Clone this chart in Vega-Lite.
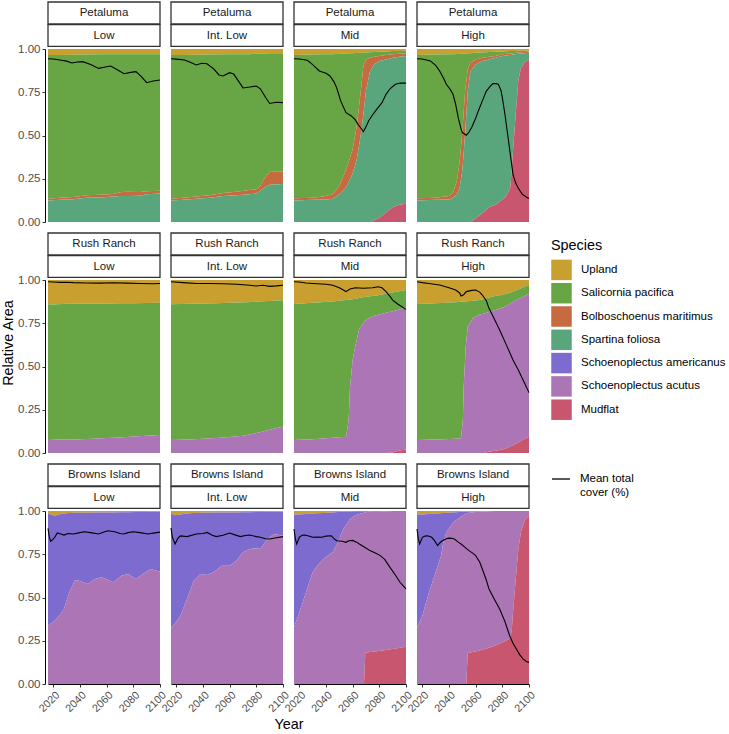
{
"$schema": "https://vega.github.io/schema/vega-lite/v6.json",
"padding": {"left": 0, "top": 1, "right": 0, "bottom": 0},
"background": "white",
"datasets": {
"sp": [
{"k":"Mu","Species":"Mudflat","rank":0},
{"k":"Ac","Species":"Schoenoplectus acutus","rank":1},
{"k":"Am","Species":"Schoenoplectus americanus","rank":2},
{"k":"Sp","Species":"Spartina foliosa","rank":3},
{"k":"Bo","Species":"Bolboschoenus maritimus","rank":4},
{"k":"Sa","Species":"Salicornia pacifica","rank":5},
{"k":"U","Species":"Upland","rank":6}
]
},
"data": {"values": [
{"s":"Petaluma","c":"Low","y":2016,"U":0.035,"Sa":0.83,"Bo":0.01,"Sp":0.125,"Am":0,"Ac":0,"Mu":0},
{"s":"Petaluma","c":"Low","y":2025,"U":0.034,"Sa":0.826,"Bo":0.012,"Sp":0.128,"Am":0,"Ac":0,"Mu":0},
{"s":"Petaluma","c":"Low","y":2035,"U":0.033,"Sa":0.822,"Bo":0.013,"Sp":0.132,"Am":0,"Ac":0,"Mu":0},
{"s":"Petaluma","c":"Low","y":2045,"U":0.032,"Sa":0.814,"Bo":0.014,"Sp":0.14,"Am":0,"Ac":0,"Mu":0},
{"s":"Petaluma","c":"Low","y":2055,"U":0.031,"Sa":0.812,"Bo":0.015,"Sp":0.142,"Am":0,"Ac":0,"Mu":0},
{"s":"Petaluma","c":"Low","y":2065,"U":0.03,"Sa":0.808,"Bo":0.015,"Sp":0.147,"Am":0,"Ac":0,"Mu":0},
{"s":"Petaluma","c":"Low","y":2070,"U":0.03,"Sa":0.798,"Bo":0.022,"Sp":0.15,"Am":0,"Ac":0,"Mu":0},
{"s":"Petaluma","c":"Low","y":2075,"U":0.03,"Sa":0.795,"Bo":0.025,"Sp":0.15,"Am":0,"Ac":0,"Mu":0},
{"s":"Petaluma","c":"Low","y":2085,"U":0.03,"Sa":0.796,"Bo":0.022,"Sp":0.152,"Am":0,"Ac":0,"Mu":0},
{"s":"Petaluma","c":"Low","y":2090,"U":0.03,"Sa":0.792,"Bo":0.018,"Sp":0.16,"Am":0,"Ac":0,"Mu":0},
{"s":"Petaluma","c":"Low","y":2100,"U":0.03,"Sa":0.79,"Bo":0.015,"Sp":0.165,"Am":0,"Ac":0,"Mu":0},

{"s":"Petaluma","c":"Int. Low","y":2016,"U":0.035,"Sa":0.83,"Bo":0.01,"Sp":0.125,"Am":0,"Ac":0,"Mu":0},
{"s":"Petaluma","c":"Int. Low","y":2025,"U":0.034,"Sa":0.826,"Bo":0.012,"Sp":0.128,"Am":0,"Ac":0,"Mu":0},
{"s":"Petaluma","c":"Int. Low","y":2035,"U":0.033,"Sa":0.819,"Bo":0.013,"Sp":0.135,"Am":0,"Ac":0,"Mu":0},
{"s":"Petaluma","c":"Int. Low","y":2045,"U":0.032,"Sa":0.813,"Bo":0.015,"Sp":0.14,"Am":0,"Ac":0,"Mu":0},
{"s":"Petaluma","c":"Int. Low","y":2055,"U":0.031,"Sa":0.801,"Bo":0.018,"Sp":0.15,"Am":0,"Ac":0,"Mu":0},
{"s":"Petaluma","c":"Int. Low","y":2065,"U":0.03,"Sa":0.795,"Bo":0.02,"Sp":0.155,"Am":0,"Ac":0,"Mu":0},
{"s":"Petaluma","c":"Int. Low","y":2075,"U":0.03,"Sa":0.785,"Bo":0.025,"Sp":0.16,"Am":0,"Ac":0,"Mu":0},
{"s":"Petaluma","c":"Int. Low","y":2080,"U":0.028,"Sa":0.782,"Bo":0.025,"Sp":0.165,"Am":0,"Ac":0,"Mu":0},
{"s":"Petaluma","c":"Int. Low","y":2083,"U":0.027,"Sa":0.763,"Bo":0.03,"Sp":0.18,"Am":0,"Ac":0,"Mu":0},
{"s":"Petaluma","c":"Int. Low","y":2086,"U":0.026,"Sa":0.724,"Bo":0.05,"Sp":0.2,"Am":0,"Ac":0,"Mu":0},
{"s":"Petaluma","c":"Int. Low","y":2090,"U":0.025,"Sa":0.685,"Bo":0.075,"Sp":0.215,"Am":0,"Ac":0,"Mu":0},
{"s":"Petaluma","c":"Int. Low","y":2100,"U":0.025,"Sa":0.685,"Bo":0.07,"Sp":0.22,"Am":0,"Ac":0,"Mu":0},

{"s":"Petaluma","c":"Mid","y":2016,"U":0.035,"Sa":0.828,"Bo":0.012,"Sp":0.125,"Am":0,"Ac":0,"Mu":0},
{"s":"Petaluma","c":"Mid","y":2030,"U":0.032,"Sa":0.828,"Bo":0.012,"Sp":0.128,"Am":0,"Ac":0,"Mu":0},
{"s":"Petaluma","c":"Mid","y":2040,"U":0.03,"Sa":0.82,"Bo":0.02,"Sp":0.13,"Am":0,"Ac":0,"Mu":0},
{"s":"Petaluma","c":"Mid","y":2045,"U":0.03,"Sa":0.81,"Bo":0.025,"Sp":0.135,"Am":0,"Ac":0,"Mu":0},
{"s":"Petaluma","c":"Mid","y":2050,"U":0.028,"Sa":0.762,"Bo":0.05,"Sp":0.16,"Am":0,"Ac":0,"Mu":0},
{"s":"Petaluma","c":"Mid","y":2055,"U":0.026,"Sa":0.674,"Bo":0.1,"Sp":0.2,"Am":0,"Ac":0,"Mu":0},
{"s":"Petaluma","c":"Mid","y":2060,"U":0.024,"Sa":0.556,"Bo":0.14,"Sp":0.28,"Am":0,"Ac":0,"Mu":0},
{"s":"Petaluma","c":"Mid","y":2063,"U":0.023,"Sa":0.427,"Bo":0.19,"Sp":0.36,"Am":0,"Ac":0,"Mu":0},
{"s":"Petaluma","c":"Mid","y":2066,"U":0.022,"Sa":0.228,"Bo":0.25,"Sp":0.5,"Am":0,"Ac":0,"Mu":0},
{"s":"Petaluma","c":"Mid","y":2068,"U":0.021,"Sa":0.079,"Bo":0.28,"Sp":0.62,"Am":0,"Ac":0,"Mu":0},
{"s":"Petaluma","c":"Mid","y":2070,"U":0.02,"Sa":0.04,"Bo":0.18,"Sp":0.76,"Am":0,"Ac":0,"Mu":0},
{"s":"Petaluma","c":"Mid","y":2073,"U":0.019,"Sa":0.031,"Bo":0.08,"Sp":0.87,"Am":0,"Ac":0,"Mu":0},
{"s":"Petaluma","c":"Mid","y":2076,"U":0.018,"Sa":0.027,"Bo":0.045,"Sp":0.9,"Am":0,"Ac":0,"Mu":0.01},
{"s":"Petaluma","c":"Mid","y":2080,"U":0.016,"Sa":0.024,"Bo":0.03,"Sp":0.905,"Am":0,"Ac":0,"Mu":0.025},
{"s":"Petaluma","c":"Mid","y":2085,"U":0.014,"Sa":0.021,"Bo":0.025,"Sp":0.885,"Am":0,"Ac":0,"Mu":0.055},
{"s":"Petaluma","c":"Mid","y":2090,"U":0.012,"Sa":0.018,"Bo":0.02,"Sp":0.865,"Am":0,"Ac":0,"Mu":0.085},
{"s":"Petaluma","c":"Mid","y":2095,"U":0.011,"Sa":0.017,"Bo":0.017,"Sp":0.855,"Am":0,"Ac":0,"Mu":0.1},
{"s":"Petaluma","c":"Mid","y":2100,"U":0.01,"Sa":0.015,"Bo":0.015,"Sp":0.855,"Am":0,"Ac":0,"Mu":0.105},

{"s":"Petaluma","c":"High","y":2016,"U":0.035,"Sa":0.828,"Bo":0.012,"Sp":0.125,"Am":0,"Ac":0,"Mu":0},
{"s":"Petaluma","c":"High","y":2030,"U":0.032,"Sa":0.828,"Bo":0.012,"Sp":0.128,"Am":0,"Ac":0,"Mu":0},
{"s":"Petaluma","c":"High","y":2040,"U":0.03,"Sa":0.82,"Bo":0.02,"Sp":0.13,"Am":0,"Ac":0,"Mu":0},
{"s":"Petaluma","c":"High","y":2043,"U":0.03,"Sa":0.8,"Bo":0.03,"Sp":0.14,"Am":0,"Ac":0,"Mu":0},
{"s":"Petaluma","c":"High","y":2046,"U":0.029,"Sa":0.731,"Bo":0.08,"Sp":0.16,"Am":0,"Ac":0,"Mu":0},
{"s":"Petaluma","c":"High","y":2048,"U":0.028,"Sa":0.622,"Bo":0.15,"Sp":0.2,"Am":0,"Ac":0,"Mu":0},
{"s":"Petaluma","c":"High","y":2050,"U":0.027,"Sa":0.453,"Bo":0.22,"Sp":0.3,"Am":0,"Ac":0,"Mu":0},
{"s":"Petaluma","c":"High","y":2052,"U":0.026,"Sa":0.224,"Bo":0.25,"Sp":0.5,"Am":0,"Ac":0,"Mu":0},
{"s":"Petaluma","c":"High","y":2054,"U":0.025,"Sa":0.095,"Bo":0.13,"Sp":0.75,"Am":0,"Ac":0,"Mu":0},
{"s":"Petaluma","c":"High","y":2056,"U":0.024,"Sa":0.056,"Bo":0.05,"Sp":0.87,"Am":0,"Ac":0,"Mu":0},
{"s":"Petaluma","c":"High","y":2060,"U":0.022,"Sa":0.038,"Bo":0.03,"Sp":0.89,"Am":0,"Ac":0,"Mu":0.02},
{"s":"Petaluma","c":"High","y":2065,"U":0.02,"Sa":0.03,"Bo":0.02,"Sp":0.88,"Am":0,"Ac":0,"Mu":0.05},
{"s":"Petaluma","c":"High","y":2068,"U":0.019,"Sa":0.029,"Bo":0.017,"Sp":0.865,"Am":0,"Ac":0,"Mu":0.07},
{"s":"Petaluma","c":"High","y":2070,"U":0.018,"Sa":0.027,"Bo":0.015,"Sp":0.855,"Am":0,"Ac":0,"Mu":0.085},
{"s":"Petaluma","c":"High","y":2075,"U":0.016,"Sa":0.024,"Bo":0.01,"Sp":0.85,"Am":0,"Ac":0,"Mu":0.1},
{"s":"Petaluma","c":"High","y":2080,"U":0.014,"Sa":0.016,"Bo":0.01,"Sp":0.83,"Am":0,"Ac":0,"Mu":0.13},
{"s":"Petaluma","c":"High","y":2083,"U":0.013,"Sa":0.015,"Bo":0.01,"Sp":0.812,"Am":0,"Ac":0,"Mu":0.15},
{"s":"Petaluma","c":"High","y":2086,"U":0.012,"Sa":0.014,"Bo":0.009,"Sp":0.765,"Am":0,"Ac":0,"Mu":0.2},
{"s":"Petaluma","c":"High","y":2088,"U":0.011,"Sa":0.013,"Bo":0.008,"Sp":0.558,"Am":0,"Ac":0,"Mu":0.41},
{"s":"Petaluma","c":"High","y":2090,"U":0.011,"Sa":0.011,"Bo":0.008,"Sp":0.35,"Am":0,"Ac":0,"Mu":0.62},
{"s":"Petaluma","c":"High","y":2092,"U":0.01,"Sa":0.01,"Bo":0.008,"Sp":0.152,"Am":0,"Ac":0,"Mu":0.82},
{"s":"Petaluma","c":"High","y":2094,"U":0.01,"Sa":0.009,"Bo":0.007,"Sp":0.084,"Am":0,"Ac":0,"Mu":0.89},
{"s":"Petaluma","c":"High","y":2097,"U":0.01,"Sa":0.007,"Bo":0.007,"Sp":0.051,"Am":0,"Ac":0,"Mu":0.925},
{"s":"Petaluma","c":"High","y":2100,"U":0.01,"Sa":0.005,"Bo":0.007,"Sp":0.038,"Am":0,"Ac":0,"Mu":0.94},

{"s":"Rush Ranch","c":"Low","y":2016,"U":0.14,"Sa":0.785,"Bo":0,"Sp":0,"Am":0,"Ac":0.075,"Mu":0},
{"s":"Rush Ranch","c":"Low","y":2020,"U":0.142,"Sa":0.782,"Bo":0,"Sp":0,"Am":0,"Ac":0.076,"Mu":0},
{"s":"Rush Ranch","c":"Low","y":2030,"U":0.138,"Sa":0.784,"Bo":0,"Sp":0,"Am":0,"Ac":0.078,"Mu":0},
{"s":"Rush Ranch","c":"Low","y":2040,"U":0.138,"Sa":0.782,"Bo":0,"Sp":0,"Am":0,"Ac":0.08,"Mu":0},
{"s":"Rush Ranch","c":"Low","y":2050,"U":0.136,"Sa":0.781,"Bo":0,"Sp":0,"Am":0,"Ac":0.083,"Mu":0},
{"s":"Rush Ranch","c":"Low","y":2060,"U":0.136,"Sa":0.778,"Bo":0,"Sp":0,"Am":0,"Ac":0.086,"Mu":0},
{"s":"Rush Ranch","c":"Low","y":2070,"U":0.135,"Sa":0.775,"Bo":0,"Sp":0,"Am":0,"Ac":0.09,"Mu":0},
{"s":"Rush Ranch","c":"Low","y":2080,"U":0.134,"Sa":0.771,"Bo":0,"Sp":0,"Am":0,"Ac":0.095,"Mu":0},
{"s":"Rush Ranch","c":"Low","y":2090,"U":0.133,"Sa":0.767,"Bo":0,"Sp":0,"Am":0,"Ac":0.1,"Mu":0},
{"s":"Rush Ranch","c":"Low","y":2100,"U":0.132,"Sa":0.764,"Bo":0,"Sp":0,"Am":0,"Ac":0.104,"Mu":0},

{"s":"Rush Ranch","c":"Int. Low","y":2016,"U":0.14,"Sa":0.785,"Bo":0,"Sp":0,"Am":0,"Ac":0.075,"Mu":0},
{"s":"Rush Ranch","c":"Int. Low","y":2030,"U":0.138,"Sa":0.784,"Bo":0,"Sp":0,"Am":0,"Ac":0.078,"Mu":0},
{"s":"Rush Ranch","c":"Int. Low","y":2040,"U":0.136,"Sa":0.782,"Bo":0,"Sp":0,"Am":0,"Ac":0.082,"Mu":0},
{"s":"Rush Ranch","c":"Int. Low","y":2050,"U":0.134,"Sa":0.779,"Bo":0,"Sp":0,"Am":0,"Ac":0.087,"Mu":0},
{"s":"Rush Ranch","c":"Int. Low","y":2060,"U":0.132,"Sa":0.775,"Bo":0,"Sp":0,"Am":0,"Ac":0.093,"Mu":0},
{"s":"Rush Ranch","c":"Int. Low","y":2070,"U":0.13,"Sa":0.77,"Bo":0,"Sp":0,"Am":0,"Ac":0.1,"Mu":0},
{"s":"Rush Ranch","c":"Int. Low","y":2080,"U":0.126,"Sa":0.759,"Bo":0,"Sp":0,"Am":0,"Ac":0.115,"Mu":0},
{"s":"Rush Ranch","c":"Int. Low","y":2085,"U":0.123,"Sa":0.752,"Bo":0,"Sp":0,"Am":0,"Ac":0.125,"Mu":0},
{"s":"Rush Ranch","c":"Int. Low","y":2090,"U":0.121,"Sa":0.744,"Bo":0,"Sp":0,"Am":0,"Ac":0.135,"Mu":0},
{"s":"Rush Ranch","c":"Int. Low","y":2095,"U":0.119,"Sa":0.736,"Bo":0,"Sp":0,"Am":0,"Ac":0.145,"Mu":0},
{"s":"Rush Ranch","c":"Int. Low","y":2100,"U":0.117,"Sa":0.731,"Bo":0,"Sp":0,"Am":0,"Ac":0.152,"Mu":0},

{"s":"Rush Ranch","c":"Mid","y":2016,"U":0.139,"Sa":0.786,"Bo":0,"Sp":0,"Am":0,"Ac":0.075,"Mu":0},
{"s":"Rush Ranch","c":"Mid","y":2030,"U":0.132,"Sa":0.788,"Bo":0,"Sp":0,"Am":0,"Ac":0.08,"Mu":0},
{"s":"Rush Ranch","c":"Mid","y":2045,"U":0.124,"Sa":0.788,"Bo":0,"Sp":0,"Am":0,"Ac":0.088,"Mu":0},
{"s":"Rush Ranch","c":"Mid","y":2055,"U":0.116,"Sa":0.79,"Bo":0,"Sp":0,"Am":0,"Ac":0.094,"Mu":0},
{"s":"Rush Ranch","c":"Mid","y":2057,"U":0.114,"Sa":0.696,"Bo":0,"Sp":0,"Am":0,"Ac":0.19,"Mu":0},
{"s":"Rush Ranch","c":"Mid","y":2058,"U":0.113,"Sa":0.507,"Bo":0,"Sp":0,"Am":0,"Ac":0.38,"Mu":0},
{"s":"Rush Ranch","c":"Mid","y":2060,"U":0.111,"Sa":0.349,"Bo":0,"Sp":0,"Am":0,"Ac":0.54,"Mu":0},
{"s":"Rush Ranch","c":"Mid","y":2062,"U":0.108,"Sa":0.272,"Bo":0,"Sp":0,"Am":0,"Ac":0.62,"Mu":0},
{"s":"Rush Ranch","c":"Mid","y":2065,"U":0.104,"Sa":0.176,"Bo":0,"Sp":0,"Am":0,"Ac":0.72,"Mu":0},
{"s":"Rush Ranch","c":"Mid","y":2070,"U":0.097,"Sa":0.133,"Bo":0,"Sp":0,"Am":0,"Ac":0.77,"Mu":0},
{"s":"Rush Ranch","c":"Mid","y":2075,"U":0.092,"Sa":0.118,"Bo":0,"Sp":0,"Am":0,"Ac":0.79,"Mu":0},
{"s":"Rush Ranch","c":"Mid","y":2080,"U":0.087,"Sa":0.113,"Bo":0,"Sp":0,"Am":0,"Ac":0.8,"Mu":0},
{"s":"Rush Ranch","c":"Mid","y":2085,"U":0.08,"Sa":0.11,"Bo":0,"Sp":0,"Am":0,"Ac":0.81,"Mu":0},
{"s":"Rush Ranch","c":"Mid","y":2090,"U":0.072,"Sa":0.108,"Bo":0,"Sp":0,"Am":0,"Ac":0.815,"Mu":0.005},
{"s":"Rush Ranch","c":"Mid","y":2095,"U":0.065,"Sa":0.105,"Bo":0,"Sp":0,"Am":0,"Ac":0.815,"Mu":0.015},
{"s":"Rush Ranch","c":"Mid","y":2100,"U":0.058,"Sa":0.1,"Bo":0,"Sp":0,"Am":0,"Ac":0.822,"Mu":0.02},

{"s":"Rush Ranch","c":"High","y":2016,"U":0.139,"Sa":0.786,"Bo":0,"Sp":0,"Am":0,"Ac":0.075,"Mu":0},
{"s":"Rush Ranch","c":"High","y":2030,"U":0.134,"Sa":0.788,"Bo":0,"Sp":0,"Am":0,"Ac":0.078,"Mu":0},
{"s":"Rush Ranch","c":"High","y":2045,"U":0.128,"Sa":0.79,"Bo":0,"Sp":0,"Am":0,"Ac":0.082,"Mu":0},
{"s":"Rush Ranch","c":"High","y":2049,"U":0.126,"Sa":0.789,"Bo":0,"Sp":0,"Am":0,"Ac":0.085,"Mu":0},
{"s":"Rush Ranch","c":"High","y":2050.4,"U":0.125,"Sa":0.685,"Bo":0,"Sp":0,"Am":0,"Ac":0.19,"Mu":0},
{"s":"Rush Ranch","c":"High","y":2051,"U":0.125,"Sa":0.495,"Bo":0,"Sp":0,"Am":0,"Ac":0.38,"Mu":0},
{"s":"Rush Ranch","c":"High","y":2052.5,"U":0.124,"Sa":0.266,"Bo":0,"Sp":0,"Am":0,"Ac":0.61,"Mu":0},
{"s":"Rush Ranch","c":"High","y":2054,"U":0.123,"Sa":0.147,"Bo":0,"Sp":0,"Am":0,"Ac":0.73,"Mu":0},
{"s":"Rush Ranch","c":"High","y":2058,"U":0.12,"Sa":0.1,"Bo":0,"Sp":0,"Am":0,"Ac":0.78,"Mu":0},
{"s":"Rush Ranch","c":"High","y":2063,"U":0.115,"Sa":0.085,"Bo":0,"Sp":0,"Am":0,"Ac":0.8,"Mu":0},
{"s":"Rush Ranch","c":"High","y":2066,"U":0.11,"Sa":0.085,"Bo":0,"Sp":0,"Am":0,"Ac":0.805,"Mu":0},
{"s":"Rush Ranch","c":"High","y":2068,"U":0.105,"Sa":0.085,"Bo":0,"Sp":0,"Am":0,"Ac":0.805,"Mu":0.005},
{"s":"Rush Ranch","c":"High","y":2072,"U":0.097,"Sa":0.083,"Bo":0,"Sp":0,"Am":0,"Ac":0.81,"Mu":0.01},
{"s":"Rush Ranch","c":"High","y":2076,"U":0.09,"Sa":0.08,"Bo":0,"Sp":0,"Am":0,"Ac":0.815,"Mu":0.015},
{"s":"Rush Ranch","c":"High","y":2080,"U":0.087,"Sa":0.073,"Bo":0,"Sp":0,"Am":0,"Ac":0.82,"Mu":0.02},
{"s":"Rush Ranch","c":"High","y":2083,"U":0.08,"Sa":0.07,"Bo":0,"Sp":0,"Am":0,"Ac":0.823,"Mu":0.027},
{"s":"Rush Ranch","c":"High","y":2088,"U":0.068,"Sa":0.058,"Bo":0,"Sp":0,"Am":0,"Ac":0.829,"Mu":0.045},
{"s":"Rush Ranch","c":"High","y":2092,"U":0.055,"Sa":0.055,"Bo":0,"Sp":0,"Am":0,"Ac":0.83,"Mu":0.06},
{"s":"Rush Ranch","c":"High","y":2096,"U":0.04,"Sa":0.055,"Bo":0,"Sp":0,"Am":0,"Ac":0.825,"Mu":0.08},
{"s":"Rush Ranch","c":"High","y":2100,"U":0.029,"Sa":0.051,"Bo":0,"Sp":0,"Am":0,"Ac":0.826,"Mu":0.094},

{"s":"Browns Island","c":"Low","y":2016,"U":0.015,"Sa":0,"Bo":0,"Sp":0,"Am":0.648,"Ac":0.337,"Mu":0},
{"s":"Browns Island","c":"Low","y":2018,"U":0.02,"Sa":0,"Bo":0,"Sp":0,"Am":0.63,"Ac":0.35,"Mu":0},
{"s":"Browns Island","c":"Low","y":2021,"U":0.028,"Sa":0,"Bo":0,"Sp":0,"Am":0.606,"Ac":0.366,"Mu":0},
{"s":"Browns Island","c":"Low","y":2024,"U":0.02,"Sa":0,"Bo":0,"Sp":0,"Am":0.59,"Ac":0.39,"Mu":0},
{"s":"Browns Island","c":"Low","y":2028,"U":0.015,"Sa":0,"Bo":0,"Sp":0,"Am":0.551,"Ac":0.434,"Mu":0},
{"s":"Browns Island","c":"Low","y":2032,"U":0.012,"Sa":0,"Bo":0,"Sp":0,"Am":0.458,"Ac":0.53,"Mu":0},
{"s":"Browns Island","c":"Low","y":2036,"U":0.01,"Sa":0,"Bo":0,"Sp":0,"Am":0.393,"Ac":0.597,"Mu":0},
{"s":"Browns Island","c":"Low","y":2038,"U":0.01,"Sa":0,"Bo":0,"Sp":0,"Am":0.39,"Ac":0.6,"Mu":0},
{"s":"Browns Island","c":"Low","y":2042,"U":0.01,"Sa":0,"Bo":0,"Sp":0,"Am":0.4,"Ac":0.59,"Mu":0},
{"s":"Browns Island","c":"Low","y":2046,"U":0.01,"Sa":0,"Bo":0,"Sp":0,"Am":0.412,"Ac":0.578,"Mu":0},
{"s":"Browns Island","c":"Low","y":2051,"U":0.009,"Sa":0,"Bo":0,"Sp":0,"Am":0.384,"Ac":0.607,"Mu":0},
{"s":"Browns Island","c":"Low","y":2056,"U":0.009,"Sa":0,"Bo":0,"Sp":0,"Am":0.374,"Ac":0.617,"Mu":0},
{"s":"Browns Island","c":"Low","y":2060,"U":0.008,"Sa":0,"Bo":0,"Sp":0,"Am":0.387,"Ac":0.605,"Mu":0},
{"s":"Browns Island","c":"Low","y":2065,"U":0.008,"Sa":0,"Bo":0,"Sp":0,"Am":0.404,"Ac":0.588,"Mu":0},
{"s":"Browns Island","c":"Low","y":2071,"U":0.007,"Sa":0,"Bo":0,"Sp":0,"Am":0.367,"Ac":0.626,"Mu":0},
{"s":"Browns Island","c":"Low","y":2076,"U":0.007,"Sa":0,"Bo":0,"Sp":0,"Am":0.357,"Ac":0.636,"Mu":0},
{"s":"Browns Island","c":"Low","y":2082,"U":0.006,"Sa":0,"Bo":0,"Sp":0,"Am":0.387,"Ac":0.607,"Mu":0},
{"s":"Browns Island","c":"Low","y":2088,"U":0.006,"Sa":0,"Bo":0,"Sp":0,"Am":0.354,"Ac":0.64,"Mu":0},
{"s":"Browns Island","c":"Low","y":2093,"U":0.005,"Sa":0,"Bo":0,"Sp":0,"Am":0.33,"Ac":0.665,"Mu":0},
{"s":"Browns Island","c":"Low","y":2100,"U":0.005,"Sa":0,"Bo":0,"Sp":0,"Am":0.346,"Ac":0.649,"Mu":0},

{"s":"Browns Island","c":"Int. Low","y":2016,"U":0.015,"Sa":0,"Bo":0,"Sp":0,"Am":0.658,"Ac":0.327,"Mu":0},
{"s":"Browns Island","c":"Int. Low","y":2019,"U":0.025,"Sa":0,"Bo":0,"Sp":0,"Am":0.625,"Ac":0.35,"Mu":0},
{"s":"Browns Island","c":"Int. Low","y":2023,"U":0.02,"Sa":0,"Bo":0,"Sp":0,"Am":0.585,"Ac":0.395,"Mu":0},
{"s":"Browns Island","c":"Int. Low","y":2028,"U":0.015,"Sa":0,"Bo":0,"Sp":0,"Am":0.494,"Ac":0.491,"Mu":0},
{"s":"Browns Island","c":"Int. Low","y":2033,"U":0.012,"Sa":0,"Bo":0,"Sp":0,"Am":0.391,"Ac":0.597,"Mu":0},
{"s":"Browns Island","c":"Int. Low","y":2038,"U":0.01,"Sa":0,"Bo":0,"Sp":0,"Am":0.354,"Ac":0.636,"Mu":0},
{"s":"Browns Island","c":"Int. Low","y":2043,"U":0.01,"Sa":0,"Bo":0,"Sp":0,"Am":0.36,"Ac":0.63,"Mu":0},
{"s":"Browns Island","c":"Int. Low","y":2048,"U":0.009,"Sa":0,"Bo":0,"Sp":0,"Am":0.345,"Ac":0.646,"Mu":0},
{"s":"Browns Island","c":"Int. Low","y":2054,"U":0.009,"Sa":0,"Bo":0,"Sp":0,"Am":0.307,"Ac":0.684,"Mu":0},
{"s":"Browns Island","c":"Int. Low","y":2060,"U":0.008,"Sa":0,"Bo":0,"Sp":0,"Am":0.308,"Ac":0.684,"Mu":0},
{"s":"Browns Island","c":"Int. Low","y":2065,"U":0.008,"Sa":0,"Bo":0,"Sp":0,"Am":0.279,"Ac":0.713,"Mu":0},
{"s":"Browns Island","c":"Int. Low","y":2070,"U":0.007,"Sa":0,"Bo":0,"Sp":0,"Am":0.232,"Ac":0.761,"Mu":0},
{"s":"Browns Island","c":"Int. Low","y":2075,"U":0.007,"Sa":0,"Bo":0,"Sp":0,"Am":0.213,"Ac":0.78,"Mu":0},
{"s":"Browns Island","c":"Int. Low","y":2080,"U":0.006,"Sa":0,"Bo":0,"Sp":0,"Am":0.209,"Ac":0.785,"Mu":0},
{"s":"Browns Island","c":"Int. Low","y":2083,"U":0.006,"Sa":0,"Bo":0,"Sp":0,"Am":0.214,"Ac":0.78,"Mu":0},
{"s":"Browns Island","c":"Int. Low","y":2088,"U":0.005,"Sa":0,"Bo":0,"Sp":0,"Am":0.161,"Ac":0.834,"Mu":0},
{"s":"Browns Island","c":"Int. Low","y":2093,"U":0.005,"Sa":0,"Bo":0,"Sp":0,"Am":0.128,"Ac":0.867,"Mu":0},
{"s":"Browns Island","c":"Int. Low","y":2100,"U":0.005,"Sa":0,"Bo":0,"Sp":0,"Am":0.138,"Ac":0.857,"Mu":0},

{"s":"Browns Island","c":"Mid","y":2016,"U":0.02,"Sa":0,"Bo":0,"Sp":0,"Am":0.653,"Ac":0.327,"Mu":0},
{"s":"Browns Island","c":"Mid","y":2020,"U":0.02,"Sa":0,"Bo":0,"Sp":0,"Am":0.566,"Ac":0.414,"Mu":0},
{"s":"Browns Island","c":"Mid","y":2025,"U":0.018,"Sa":0,"Bo":0,"Sp":0,"Am":0.452,"Ac":0.53,"Mu":0},
{"s":"Browns Island","c":"Mid","y":2030,"U":0.015,"Sa":0,"Bo":0,"Sp":0,"Am":0.339,"Ac":0.646,"Mu":0},
{"s":"Browns Island","c":"Mid","y":2034,"U":0.013,"Sa":0,"Bo":0,"Sp":0,"Am":0.297,"Ac":0.69,"Mu":0},
{"s":"Browns Island","c":"Mid","y":2038,"U":0.012,"Sa":0,"Bo":0,"Sp":0,"Am":0.265,"Ac":0.723,"Mu":0},
{"s":"Browns Island","c":"Mid","y":2042,"U":0.01,"Sa":0,"Bo":0,"Sp":0,"Am":0.245,"Ac":0.745,"Mu":0},
{"s":"Browns Island","c":"Mid","y":2045,"U":0.008,"Sa":0,"Bo":0,"Sp":0,"Am":0.231,"Ac":0.761,"Mu":0},
{"s":"Browns Island","c":"Mid","y":2049,"U":0.006,"Sa":0,"Bo":0,"Sp":0,"Am":0.175,"Ac":0.819,"Mu":0},
{"s":"Browns Island","c":"Mid","y":2053,"U":0.004,"Sa":0,"Bo":0,"Sp":0,"Am":0.1,"Ac":0.896,"Mu":0},
{"s":"Browns Island","c":"Mid","y":2058,"U":0.003,"Sa":0,"Bo":0,"Sp":0,"Am":0.043,"Ac":0.954,"Mu":0},
{"s":"Browns Island","c":"Mid","y":2062,"U":0.002,"Sa":0,"Bo":0,"Sp":0,"Am":0.023,"Ac":0.975,"Mu":0},
{"s":"Browns Island","c":"Mid","y":2065,"U":0.002,"Sa":0,"Bo":0,"Sp":0,"Am":0.015,"Ac":0.983,"Mu":0},
{"s":"Browns Island","c":"Mid","y":2068.5,"U":0.001,"Sa":0,"Bo":0,"Sp":0,"Am":0.009,"Ac":0.99,"Mu":0},
{"s":"Browns Island","c":"Mid","y":2069.5,"U":0.001,"Sa":0,"Bo":0,"Sp":0,"Am":0.006,"Ac":0.813,"Mu":0.18},
{"s":"Browns Island","c":"Mid","y":2072,"U":0.001,"Sa":0,"Bo":0,"Sp":0,"Am":0.004,"Ac":0.812,"Mu":0.183},
{"s":"Browns Island","c":"Mid","y":2078,"U":0,"Sa":0,"Bo":0,"Sp":0,"Am":0.004,"Ac":0.806,"Mu":0.19},
{"s":"Browns Island","c":"Mid","y":2085,"U":0,"Sa":0,"Bo":0,"Sp":0,"Am":0.002,"Ac":0.801,"Mu":0.197},
{"s":"Browns Island","c":"Mid","y":2092,"U":0,"Sa":0,"Bo":0,"Sp":0,"Am":0,"Ac":0.795,"Mu":0.205},
{"s":"Browns Island","c":"Mid","y":2100,"U":0,"Sa":0,"Bo":0,"Sp":0,"Am":0,"Ac":0.784,"Mu":0.216},

{"s":"Browns Island","c":"High","y":2016,"U":0.02,"Sa":0,"Bo":0,"Sp":0,"Am":0.653,"Ac":0.327,"Mu":0},
{"s":"Browns Island","c":"High","y":2020,"U":0.02,"Sa":0,"Bo":0,"Sp":0,"Am":0.585,"Ac":0.395,"Mu":0},
{"s":"Browns Island","c":"High","y":2025,"U":0.018,"Sa":0,"Bo":0,"Sp":0,"Am":0.452,"Ac":0.53,"Mu":0},
{"s":"Browns Island","c":"High","y":2030,"U":0.015,"Sa":0,"Bo":0,"Sp":0,"Am":0.339,"Ac":0.646,"Mu":0},
{"s":"Browns Island","c":"High","y":2034,"U":0.013,"Sa":0,"Bo":0,"Sp":0,"Am":0.245,"Ac":0.742,"Mu":0},
{"s":"Browns Island","c":"High","y":2035.5,"U":0.012,"Sa":0,"Bo":0,"Sp":0,"Am":0.179,"Ac":0.809,"Mu":0},
{"s":"Browns Island","c":"High","y":2038,"U":0.01,"Sa":0,"Bo":0,"Sp":0,"Am":0.114,"Ac":0.876,"Mu":0},
{"s":"Browns Island","c":"High","y":2043,"U":0.008,"Sa":0,"Bo":0,"Sp":0,"Am":0.058,"Ac":0.934,"Mu":0},
{"s":"Browns Island","c":"High","y":2050,"U":0.005,"Sa":0,"Bo":0,"Sp":0,"Am":0.022,"Ac":0.973,"Mu":0},
{"s":"Browns Island","c":"High","y":2053,"U":0.004,"Sa":0,"Bo":0,"Sp":0,"Am":0.011,"Ac":0.985,"Mu":0},
{"s":"Browns Island","c":"High","y":2054,"U":0.004,"Sa":0,"Bo":0,"Sp":0,"Am":0.008,"Ac":0.809,"Mu":0.179},
{"s":"Browns Island","c":"High","y":2058,"U":0.003,"Sa":0,"Bo":0,"Sp":0,"Am":0.004,"Ac":0.808,"Mu":0.185},
{"s":"Browns Island","c":"High","y":2063,"U":0.002,"Sa":0,"Bo":0,"Sp":0,"Am":0.002,"Ac":0.803,"Mu":0.193},
{"s":"Browns Island","c":"High","y":2070,"U":0.001,"Sa":0,"Bo":0,"Sp":0,"Am":0.001,"Ac":0.788,"Mu":0.21},
{"s":"Browns Island","c":"High","y":2075,"U":0,"Sa":0,"Bo":0,"Sp":0,"Am":0,"Ac":0.778,"Mu":0.222},
{"s":"Browns Island","c":"High","y":2080,"U":0,"Sa":0,"Bo":0,"Sp":0,"Am":0,"Ac":0.76,"Mu":0.24},
{"s":"Browns Island","c":"High","y":2085,"U":0,"Sa":0,"Bo":0,"Sp":0,"Am":0,"Ac":0.74,"Mu":0.26},
{"s":"Browns Island","c":"High","y":2087,"U":0,"Sa":0,"Bo":0,"Sp":0,"Am":0,"Ac":0.7,"Mu":0.3},
{"s":"Browns Island","c":"High","y":2088,"U":0,"Sa":0,"Bo":0,"Sp":0,"Am":0,"Ac":0.586,"Mu":0.414},
{"s":"Browns Island","c":"High","y":2090,"U":0,"Sa":0,"Bo":0,"Sp":0,"Am":0,"Ac":0.4,"Mu":0.6},
{"s":"Browns Island","c":"High","y":2092,"U":0,"Sa":0,"Bo":0,"Sp":0,"Am":0,"Ac":0.22,"Mu":0.78},
{"s":"Browns Island","c":"High","y":2094,"U":0,"Sa":0,"Bo":0,"Sp":0,"Am":0,"Ac":0.12,"Mu":0.88},
{"s":"Browns Island","c":"High","y":2097,"U":0,"Sa":0,"Bo":0,"Sp":0,"Am":0,"Ac":0.05,"Mu":0.95},
{"s":"Browns Island","c":"High","y":2100,"U":0,"Sa":0,"Bo":0,"Sp":0,"Am":0,"Ac":0.027,"Mu":0.973},

{"s":"Petaluma","c":"Low","y":2016,"m":0.944},{"s":"Petaluma","c":"Low","y":2020,"m":0.942},{"s":"Petaluma","c":"Low","y":2026,"m":0.935},{"s":"Petaluma","c":"Low","y":2030,"m":0.93},{"s":"Petaluma","c":"Low","y":2034,"m":0.919},{"s":"Petaluma","c":"Low","y":2038,"m":0.925},{"s":"Petaluma","c":"Low","y":2042,"m":0.927},{"s":"Petaluma","c":"Low","y":2048,"m":0.91},{"s":"Petaluma","c":"Low","y":2054,"m":0.888},{"s":"Petaluma","c":"Low","y":2058,"m":0.895},{"s":"Petaluma","c":"Low","y":2063,"m":0.902},{"s":"Petaluma","c":"Low","y":2068,"m":0.88},{"s":"Petaluma","c":"Low","y":2073,"m":0.857},{"s":"Petaluma","c":"Low","y":2078,"m":0.865},{"s":"Petaluma","c":"Low","y":2082,"m":0.869},{"s":"Petaluma","c":"Low","y":2086,"m":0.84},{"s":"Petaluma","c":"Low","y":2090,"m":0.805},{"s":"Petaluma","c":"Low","y":2095,"m":0.815},{"s":"Petaluma","c":"Low","y":2100,"m":0.821},

{"s":"Petaluma","c":"Int. Low","y":2016,"m":0.944},{"s":"Petaluma","c":"Int. Low","y":2022,"m":0.94},{"s":"Petaluma","c":"Int. Low","y":2026,"m":0.936},{"s":"Petaluma","c":"Int. Low","y":2030,"m":0.925},{"s":"Petaluma","c":"Int. Low","y":2035,"m":0.908},{"s":"Petaluma","c":"Int. Low","y":2039,"m":0.918},{"s":"Petaluma","c":"Int. Low","y":2043,"m":0.915},{"s":"Petaluma","c":"Int. Low","y":2048,"m":0.885},{"s":"Petaluma","c":"Int. Low","y":2052,"m":0.85},{"s":"Petaluma","c":"Int. Low","y":2055,"m":0.844},{"s":"Petaluma","c":"Int. Low","y":2060,"m":0.863},{"s":"Petaluma","c":"Int. Low","y":2063,"m":0.855},{"s":"Petaluma","c":"Int. Low","y":2067,"m":0.81},{"s":"Petaluma","c":"Int. Low","y":2070,"m":0.775},{"s":"Petaluma","c":"Int. Low","y":2075,"m":0.78},{"s":"Petaluma","c":"Int. Low","y":2080,"m":0.786},{"s":"Petaluma","c":"Int. Low","y":2083,"m":0.77},{"s":"Petaluma","c":"Int. Low","y":2087,"m":0.72},{"s":"Petaluma","c":"Int. Low","y":2090,"m":0.685},{"s":"Petaluma","c":"Int. Low","y":2095,"m":0.692},{"s":"Petaluma","c":"Int. Low","y":2100,"m":0.69},

{"s":"Petaluma","c":"Mid","y":2016,"m":0.944},{"s":"Petaluma","c":"Mid","y":2020,"m":0.942},{"s":"Petaluma","c":"Mid","y":2026,"m":0.935},{"s":"Petaluma","c":"Mid","y":2030,"m":0.91},{"s":"Petaluma","c":"Mid","y":2035,"m":0.873},{"s":"Petaluma","c":"Mid","y":2040,"m":0.86},{"s":"Petaluma","c":"Mid","y":2043,"m":0.844},{"s":"Petaluma","c":"Mid","y":2046,"m":0.81},{"s":"Petaluma","c":"Mid","y":2048,"m":0.776},{"s":"Petaluma","c":"Mid","y":2051,"m":0.7},{"s":"Petaluma","c":"Mid","y":2055,"m":0.632},{"s":"Petaluma","c":"Mid","y":2059,"m":0.613},{"s":"Petaluma","c":"Mid","y":2062,"m":0.59},{"s":"Petaluma","c":"Mid","y":2064,"m":0.565},{"s":"Petaluma","c":"Mid","y":2066,"m":0.545},{"s":"Petaluma","c":"Mid","y":2068,"m":0.522},{"s":"Petaluma","c":"Mid","y":2070,"m":0.55},{"s":"Petaluma","c":"Mid","y":2072,"m":0.585},{"s":"Petaluma","c":"Mid","y":2075,"m":0.62},{"s":"Petaluma","c":"Mid","y":2078,"m":0.651},{"s":"Petaluma","c":"Mid","y":2082,"m":0.69},{"s":"Petaluma","c":"Mid","y":2085,"m":0.738},{"s":"Petaluma","c":"Mid","y":2088,"m":0.77},{"s":"Petaluma","c":"Mid","y":2092,"m":0.796},{"s":"Petaluma","c":"Mid","y":2096,"m":0.803},{"s":"Petaluma","c":"Mid","y":2100,"m":0.803},

{"s":"Petaluma","c":"High","y":2016,"m":0.944},{"s":"Petaluma","c":"High","y":2020,"m":0.942},{"s":"Petaluma","c":"High","y":2026,"m":0.931},{"s":"Petaluma","c":"High","y":2030,"m":0.905},{"s":"Petaluma","c":"High","y":2033,"m":0.873},{"s":"Petaluma","c":"High","y":2036,"m":0.83},{"s":"Petaluma","c":"High","y":2038,"m":0.796},{"s":"Petaluma","c":"High","y":2041,"m":0.765},{"s":"Petaluma","c":"High","y":2043,"m":0.738},{"s":"Petaluma","c":"High","y":2045,"m":0.68},{"s":"Petaluma","c":"High","y":2047,"m":0.6},{"s":"Petaluma","c":"High","y":2049,"m":0.54},{"s":"Petaluma","c":"High","y":2050,"m":0.517},{"s":"Petaluma","c":"High","y":2053,"m":0.501},{"s":"Petaluma","c":"High","y":2055,"m":0.52},{"s":"Petaluma","c":"High","y":2057,"m":0.546},{"s":"Petaluma","c":"High","y":2060,"m":0.6},{"s":"Petaluma","c":"High","y":2062,"m":0.642},{"s":"Petaluma","c":"High","y":2065,"m":0.7},{"s":"Petaluma","c":"High","y":2068,"m":0.757},{"s":"Petaluma","c":"High","y":2071,"m":0.785},{"s":"Petaluma","c":"High","y":2073,"m":0.8},{"s":"Petaluma","c":"High","y":2075,"m":0.8},{"s":"Petaluma","c":"High","y":2077,"m":0.796},{"s":"Petaluma","c":"High","y":2079,"m":0.76},{"s":"Petaluma","c":"High","y":2080,"m":0.719},{"s":"Petaluma","c":"High","y":2082,"m":0.62},{"s":"Petaluma","c":"High","y":2084,"m":0.506},{"s":"Petaluma","c":"High","y":2086,"m":0.39},{"s":"Petaluma","c":"High","y":2088,"m":0.275},{"s":"Petaluma","c":"High","y":2090,"m":0.225},{"s":"Petaluma","c":"High","y":2092,"m":0.195},{"s":"Petaluma","c":"High","y":2095,"m":0.16},{"s":"Petaluma","c":"High","y":2098,"m":0.145},{"s":"Petaluma","c":"High","y":2100,"m":0.136},

{"s":"Rush Ranch","c":"Low","y":2016,"m":0.99},{"s":"Rush Ranch","c":"Low","y":2020,"m":0.988},{"s":"Rush Ranch","c":"Low","y":2025,"m":0.986},{"s":"Rush Ranch","c":"Low","y":2030,"m":0.987},{"s":"Rush Ranch","c":"Low","y":2035,"m":0.985},{"s":"Rush Ranch","c":"Low","y":2045,"m":0.983},{"s":"Rush Ranch","c":"Low","y":2055,"m":0.982},{"s":"Rush Ranch","c":"Low","y":2065,"m":0.984},{"s":"Rush Ranch","c":"Low","y":2075,"m":0.982},{"s":"Rush Ranch","c":"Low","y":2085,"m":0.98},{"s":"Rush Ranch","c":"Low","y":2095,"m":0.978},{"s":"Rush Ranch","c":"Low","y":2100,"m":0.98},

{"s":"Rush Ranch","c":"Int. Low","y":2016,"m":0.99},{"s":"Rush Ranch","c":"Int. Low","y":2025,"m":0.985},{"s":"Rush Ranch","c":"Int. Low","y":2035,"m":0.98},{"s":"Rush Ranch","c":"Int. Low","y":2045,"m":0.98},{"s":"Rush Ranch","c":"Int. Low","y":2055,"m":0.978},{"s":"Rush Ranch","c":"Int. Low","y":2065,"m":0.975},{"s":"Rush Ranch","c":"Int. Low","y":2075,"m":0.97},{"s":"Rush Ranch","c":"Int. Low","y":2080,"m":0.965},{"s":"Rush Ranch","c":"Int. Low","y":2085,"m":0.97},{"s":"Rush Ranch","c":"Int. Low","y":2090,"m":0.963},{"s":"Rush Ranch","c":"Int. Low","y":2095,"m":0.966},{"s":"Rush Ranch","c":"Int. Low","y":2100,"m":0.97},

{"s":"Rush Ranch","c":"Mid","y":2016,"m":0.99},{"s":"Rush Ranch","c":"Mid","y":2020,"m":0.988},{"s":"Rush Ranch","c":"Mid","y":2025,"m":0.983},{"s":"Rush Ranch","c":"Mid","y":2030,"m":0.98},{"s":"Rush Ranch","c":"Mid","y":2040,"m":0.975},{"s":"Rush Ranch","c":"Mid","y":2045,"m":0.97},{"s":"Rush Ranch","c":"Mid","y":2050,"m":0.955},{"s":"Rush Ranch","c":"Mid","y":2055,"m":0.933},{"s":"Rush Ranch","c":"Mid","y":2058,"m":0.948},{"s":"Rush Ranch","c":"Mid","y":2062,"m":0.955},{"s":"Rush Ranch","c":"Mid","y":2068,"m":0.952},{"s":"Rush Ranch","c":"Mid","y":2075,"m":0.955},{"s":"Rush Ranch","c":"Mid","y":2079,"m":0.961},{"s":"Rush Ranch","c":"Mid","y":2082,"m":0.955},{"s":"Rush Ranch","c":"Mid","y":2085,"m":0.933},{"s":"Rush Ranch","c":"Mid","y":2088,"m":0.905},{"s":"Rush Ranch","c":"Mid","y":2090,"m":0.884},{"s":"Rush Ranch","c":"Mid","y":2094,"m":0.86},{"s":"Rush Ranch","c":"Mid","y":2097,"m":0.845},{"s":"Rush Ranch","c":"Mid","y":2100,"m":0.83},

{"s":"Rush Ranch","c":"High","y":2016,"m":0.99},{"s":"Rush Ranch","c":"High","y":2020,"m":0.985},{"s":"Rush Ranch","c":"High","y":2025,"m":0.98},{"s":"Rush Ranch","c":"High","y":2033,"m":0.971},{"s":"Rush Ranch","c":"High","y":2040,"m":0.955},{"s":"Rush Ranch","c":"High","y":2045,"m":0.942},{"s":"Rush Ranch","c":"High","y":2048,"m":0.925},{"s":"Rush Ranch","c":"High","y":2049,"m":0.907},{"s":"Rush Ranch","c":"High","y":2051,"m":0.915},{"s":"Rush Ranch","c":"High","y":2053,"m":0.933},{"s":"Rush Ranch","c":"High","y":2057,"m":0.94},{"s":"Rush Ranch","c":"High","y":2060,"m":0.942},{"s":"Rush Ranch","c":"High","y":2063,"m":0.93},{"s":"Rush Ranch","c":"High","y":2065,"m":0.913},{"s":"Rush Ranch","c":"High","y":2068,"m":0.88},{"s":"Rush Ranch","c":"High","y":2070,"m":0.836},{"s":"Rush Ranch","c":"High","y":2074,"m":0.775},{"s":"Rush Ranch","c":"High","y":2078,"m":0.711},{"s":"Rush Ranch","c":"High","y":2083,"m":0.625},{"s":"Rush Ranch","c":"High","y":2088,"m":0.538},{"s":"Rush Ranch","c":"High","y":2092,"m":0.48},{"s":"Rush Ranch","c":"High","y":2096,"m":0.415},{"s":"Rush Ranch","c":"High","y":2100,"m":0.349},

{"s":"Browns Island","c":"Low","y":2016,"m":0.9},{"s":"Browns Island","c":"Low","y":2017,"m":0.85},{"s":"Browns Island","c":"Low","y":2018,"m":0.825},{"s":"Browns Island","c":"Low","y":2019.5,"m":0.835},{"s":"Browns Island","c":"Low","y":2021,"m":0.848},{"s":"Browns Island","c":"Low","y":2023,"m":0.873},{"s":"Browns Island","c":"Low","y":2025,"m":0.868},{"s":"Browns Island","c":"Low","y":2028,"m":0.861},{"s":"Browns Island","c":"Low","y":2031,"m":0.87},{"s":"Browns Island","c":"Low","y":2035,"m":0.867},{"s":"Browns Island","c":"Low","y":2040,"m":0.875},{"s":"Browns Island","c":"Low","y":2043,"m":0.88},{"s":"Browns Island","c":"Low","y":2048,"m":0.875},{"s":"Browns Island","c":"Low","y":2054,"m":0.867},{"s":"Browns Island","c":"Low","y":2058,"m":0.878},{"s":"Browns Island","c":"Low","y":2061,"m":0.886},{"s":"Browns Island","c":"Low","y":2066,"m":0.88},{"s":"Browns Island","c":"Low","y":2070,"m":0.87},{"s":"Browns Island","c":"Low","y":2073,"m":0.867},{"s":"Browns Island","c":"Low","y":2076,"m":0.875},{"s":"Browns Island","c":"Low","y":2080,"m":0.88},{"s":"Browns Island","c":"Low","y":2085,"m":0.875},{"s":"Browns Island","c":"Low","y":2091,"m":0.867},{"s":"Browns Island","c":"Low","y":2095,"m":0.872},{"s":"Browns Island","c":"Low","y":2100,"m":0.878},

{"s":"Browns Island","c":"Int. Low","y":2016,"m":0.902},{"s":"Browns Island","c":"Int. Low","y":2017,"m":0.85},{"s":"Browns Island","c":"Int. Low","y":2019,"m":0.809},{"s":"Browns Island","c":"Int. Low","y":2021,"m":0.84},{"s":"Browns Island","c":"Int. Low","y":2023,"m":0.856},{"s":"Browns Island","c":"Int. Low","y":2028,"m":0.852},{"s":"Browns Island","c":"Int. Low","y":2035,"m":0.867},{"s":"Browns Island","c":"Int. Low","y":2040,"m":0.87},{"s":"Browns Island","c":"Int. Low","y":2043,"m":0.876},{"s":"Browns Island","c":"Int. Low","y":2047,"m":0.86},{"s":"Browns Island","c":"Int. Low","y":2050,"m":0.852},{"s":"Browns Island","c":"Int. Low","y":2055,"m":0.86},{"s":"Browns Island","c":"Int. Low","y":2060,"m":0.873},{"s":"Browns Island","c":"Int. Low","y":2064,"m":0.862},{"s":"Browns Island","c":"Int. Low","y":2068,"m":0.852},{"s":"Browns Island","c":"Int. Low","y":2072,"m":0.858},{"s":"Browns Island","c":"Int. Low","y":2075,"m":0.861},{"s":"Browns Island","c":"Int. Low","y":2080,"m":0.852},{"s":"Browns Island","c":"Int. Low","y":2083,"m":0.848},{"s":"Browns Island","c":"Int. Low","y":2087,"m":0.84},{"s":"Browns Island","c":"Int. Low","y":2090,"m":0.838},{"s":"Browns Island","c":"Int. Low","y":2095,"m":0.845},{"s":"Browns Island","c":"Int. Low","y":2100,"m":0.852},

{"s":"Browns Island","c":"Mid","y":2016,"m":0.896},{"s":"Browns Island","c":"Mid","y":2017,"m":0.84},{"s":"Browns Island","c":"Mid","y":2018,"m":0.809},{"s":"Browns Island","c":"Mid","y":2020,"m":0.848},{"s":"Browns Island","c":"Mid","y":2022,"m":0.86},{"s":"Browns Island","c":"Mid","y":2024,"m":0.861},{"s":"Browns Island","c":"Mid","y":2027,"m":0.855},{"s":"Browns Island","c":"Mid","y":2030,"m":0.848},{"s":"Browns Island","c":"Mid","y":2034,"m":0.85},{"s":"Browns Island","c":"Mid","y":2037,"m":0.848},{"s":"Browns Island","c":"Mid","y":2040,"m":0.855},{"s":"Browns Island","c":"Mid","y":2044,"m":0.857},{"s":"Browns Island","c":"Mid","y":2046,"m":0.84},{"s":"Browns Island","c":"Mid","y":2048,"m":0.828},{"s":"Browns Island","c":"Mid","y":2052,"m":0.825},{"s":"Browns Island","c":"Mid","y":2055,"m":0.819},{"s":"Browns Island","c":"Mid","y":2057,"m":0.828},{"s":"Browns Island","c":"Mid","y":2060,"m":0.83},{"s":"Browns Island","c":"Mid","y":2063,"m":0.82},{"s":"Browns Island","c":"Mid","y":2065,"m":0.809},{"s":"Browns Island","c":"Mid","y":2069,"m":0.79},{"s":"Browns Island","c":"Mid","y":2073,"m":0.771},{"s":"Browns Island","c":"Mid","y":2077,"m":0.757},{"s":"Browns Island","c":"Mid","y":2080,"m":0.746},{"s":"Browns Island","c":"Mid","y":2084,"m":0.72},{"s":"Browns Island","c":"Mid","y":2088,"m":0.674},{"s":"Browns Island","c":"Mid","y":2092,"m":0.63},{"s":"Browns Island","c":"Mid","y":2095.5,"m":0.588},{"s":"Browns Island","c":"Mid","y":2100,"m":0.55},

{"s":"Browns Island","c":"High","y":2016,"m":0.896},{"s":"Browns Island","c":"High","y":2017,"m":0.84},{"s":"Browns Island","c":"High","y":2018,"m":0.809},{"s":"Browns Island","c":"High","y":2020,"m":0.848},{"s":"Browns Island","c":"High","y":2022,"m":0.855},{"s":"Browns Island","c":"High","y":2024,"m":0.857},{"s":"Browns Island","c":"High","y":2027,"m":0.848},{"s":"Browns Island","c":"High","y":2029,"m":0.83},{"s":"Browns Island","c":"High","y":2031.5,"m":0.8},{"s":"Browns Island","c":"High","y":2033,"m":0.815},{"s":"Browns Island","c":"High","y":2035,"m":0.828},{"s":"Browns Island","c":"High","y":2038,"m":0.84},{"s":"Browns Island","c":"High","y":2040,"m":0.843},{"s":"Browns Island","c":"High","y":2042,"m":0.842},{"s":"Browns Island","c":"High","y":2044,"m":0.838},{"s":"Browns Island","c":"High","y":2047,"m":0.82},{"s":"Browns Island","c":"High","y":2049,"m":0.809},{"s":"Browns Island","c":"High","y":2052,"m":0.79},{"s":"Browns Island","c":"High","y":2055,"m":0.771},{"s":"Browns Island","c":"High","y":2058,"m":0.755},{"s":"Browns Island","c":"High","y":2060,"m":0.742},{"s":"Browns Island","c":"High","y":2063,"m":0.705},{"s":"Browns Island","c":"High","y":2065,"m":0.665},{"s":"Browns Island","c":"High","y":2068,"m":0.6},{"s":"Browns Island","c":"High","y":2070,"m":0.549},{"s":"Browns Island","c":"High","y":2074,"m":0.49},{"s":"Browns Island","c":"High","y":2078,"m":0.434},{"s":"Browns Island","c":"High","y":2082,"m":0.36},{"s":"Browns Island","c":"High","y":2085.5,"m":0.279},{"s":"Browns Island","c":"High","y":2088,"m":0.235},{"s":"Browns Island","c":"High","y":2090.5,"m":0.202},{"s":"Browns Island","c":"High","y":2093,"m":0.17},{"s":"Browns Island","c":"High","y":2095.5,"m":0.145},{"s":"Browns Island","c":"High","y":2098,"m":0.13},{"s":"Browns Island","c":"High","y":2100,"m":0.125}
]},
"transform": [
  {"fold": ["U", "Sa", "Bo", "Sp", "Am", "Ac", "Mu"], "as": ["k", "v"]},
  {"lookup": "k", "from": {"data": {"name": "sp"}, "key": "k", "fields": ["Species", "rank"]}}
],
"facet": {
  "row": {"field": "s", "type": "nominal", "sort": ["Petaluma", "Rush Ranch", "Browns Island"], "title": "Relative Area",
    "header": {"labels": false, "titleOrient": "left", "titlePadding": -9}},
  "column": {"field": "c", "type": "nominal", "sort": ["Low", "Int. Low", "Mid", "High"], "title": "Year",
    "header": {"labels": false, "titleOrient": "bottom", "titlePadding": -6}}
},
"spacing": {"row": 10, "column": 5.0},
"spec": {
  "width": 112,
  "height": 173,
  "layer": [
    {
      "transform": [{"filter": "isValid(datum.v)"}],
      "mark": {"type": "area", "interpolate": "linear"},
      "encoding": {
        "x": {"field": "y", "type": "quantitative", "scale": {"domain": [2016, 2100], "nice": false, "zero": false},
          "axis": {"values": [2020, 2040, 2060, 2080, 2100], "tickCount": 5, "format": "d", "labelAngle": -45, "labelOverlap": false, "labelSeparation": 0, "labelFontSize": 10.8, "title": null}},
        "y": {"field": "v", "type": "quantitative", "stack": "zero", "scale": {"domain": [0, 1], "nice": false},
          "axis": {"values": [0, 0.25, 0.5, 0.75, 1], "format": ".2f", "labelOverlap": false, "title": null}},
        "color": {"field": "Species", "type": "nominal",
          "scale": {"domain": ["Upland", "Salicornia pacifica", "Bolboschoenus maritimus", "Spartina foliosa", "Schoenoplectus americanus", "Schoenoplectus acutus", "Mudflat"],
                    "range": ["#C9A02F", "#68A544", "#C66A40", "#5AA67C", "#7D6BCF", "#AB75B6", "#C9566F"]},
          "legend": {"title": "Species", "orient": "none", "legendX": 503, "legendY": 190}},
        "order": {"field": "rank", "type": "quantitative"}
      }
    },
    {
      "transform": [{"filter": "datum.k == 'U' && isValid(datum.m)"}],
      "mark": {"type": "line", "strokeWidth": 1.1, "interpolate": "linear"},
      "encoding": {
        "x": {"field": "y", "type": "quantitative",
          "axis": {"values": [2020, 2040, 2060, 2080, 2100], "tickCount": 5, "format": "d", "labelAngle": -45, "labelOverlap": false, "labelSeparation": 0, "labelFontSize": 10.8, "title": null}},
        "y": {"field": "m", "type": "quantitative", "scale": {"domain": [0, 1], "nice": false},
          "axis": {"values": [0, 0.25, 0.5, 0.75, 1], "format": ".2f", "labelOverlap": false, "title": null}},
        "stroke": {"datum": "Mean total cover (%)", "type": "nominal", "scale": {"range": ["black"]},
          "legend": {"title": null, "orient": "none", "legendX": 503, "legendY": 420, "symbolType": "stroke", "symbolSize": 324, "symbolStrokeWidth": 1.3,
            "labelExpr": "['Mean total', ' cover (%)']"}}
      }
    },
    {
      "transform": [{"filter": "datum.k == 'U' && datum.y == 2016 && isValid(datum.v)"}],
      "mark": {"type": "rect", "fill": "white", "stroke": "#333333", "strokeWidth": 1.3},
      "encoding": {"y": {"datum": 1.1445, "scale": {"domain": [0, 1], "nice": false}}, "y2": {"datum": 1.2717}}
    },
    {
      "transform": [{"filter": "datum.k == 'U' && datum.y == 2016 && isValid(datum.v)"}],
      "mark": {"type": "text", "font": "Liberation Sans", "fontSize": 11.5, "color": "#1A1A1A", "baseline": "middle", "align": "center"},
      "encoding": {"y": {"datum": 1.208}, "text": {"field": "s"}}
    },
    {
      "transform": [{"filter": "datum.k == 'U' && datum.y == 2016 && isValid(datum.v)"}],
      "mark": {"type": "rect", "fill": "white", "stroke": "#333333", "strokeWidth": 1.3},
      "encoding": {"y": {"datum": 1.0156}, "y2": {"datum": 1.141}}
    },
    {
      "transform": [{"filter": "datum.k == 'U' && datum.y == 2016 && isValid(datum.v)"}],
      "mark": {"type": "text", "font": "Liberation Sans", "fontSize": 11.5, "color": "#1A1A1A", "baseline": "middle", "align": "center"},
      "encoding": {"y": {"datum": 1.078}, "text": {"field": "c"}}
    }
  ]
},
"config": {
  "font": "Liberation Sans",
  "view": {"stroke": null},
  "axis": {"grid": false, "domainColor": "black", "domainWidth": 1, "tickColor": "#333333", "tickSize": 3, "tickWidth": 1,
    "labelColor": "#4D4D4D", "labelFontSize": 11.5, "labelFont": "Liberation Sans", "labelPadding": 2, "labelOverlap": false},
  "axisX": {"labelOverlap": false, "labelSeparation": 0, "tickCount": 5},
  "axisBottom": {"labelOverlap": false},
  "axisQuantitative": {"labelOverlap": false},
  "header": {"titleFont": "Liberation Sans", "titleFontSize": 14.4, "titleFontWeight": "normal", "titleColor": "black"},
  "legend": {"titleFont": "Liberation Sans", "titleFontSize": 14.4, "titleFontWeight": "normal", "titleColor": "black",
    "labelFont": "Liberation Sans", "labelFontSize": 11.5, "labelColor": "black", "labelLimit": 300,
    "symbolType": "square", "symbolSize": 420, "symbolStrokeWidth": 0, "symbolOpacity": 1,
    "rowPadding": 2.3, "labelOffset": 9, "padding": 0, "titlePadding": 6}
}
}
